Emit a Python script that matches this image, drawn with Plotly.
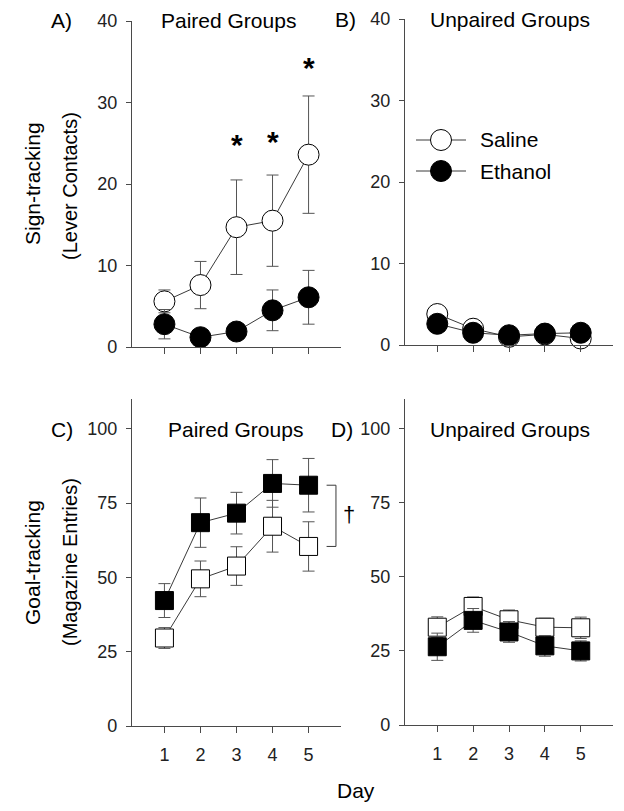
import plotly.graph_objects as go

W, H = 624, 811
FONT = "Liberation Sans, Arial, sans-serif"

days = [1, 2, 3, 4, 5]
group_labels = ["Saline", "Ethanol"]

# Panel A: Sign-tracking, paired groups
a_saline = [5.6, 7.6, 14.7, 15.5, 23.6]
a_saline_err = [1.4, 2.9, 5.8, 5.6, 7.2]
a_ethanol = [2.8, 1.2, 1.9, 4.5, 6.1]
a_ethanol_err = [1.8, 0.5, 0.5, 2.5, 3.3]
a_sig_days = [3, 4, 5]
a_sig_y = [24.9, 25.2, 34.3]

# Panel B: Sign-tracking, unpaired groups
b_saline = [3.8, 2.0, 1.0, 1.3, 0.8]
b_saline_err = [0.5, 0.4, 0.3, 0.3, 0.3]
b_ethanol = [2.6, 1.5, 1.2, 1.4, 1.5]
b_ethanol_err = [0.5, 0.4, 0.3, 0.3, 0.3]

# Panel C: Goal-tracking, paired groups
c_saline = [29.6, 49.5, 53.8, 67.2, 60.4]
c_saline_err = [3.5, 6.0, 6.5, 8.7, 8.3]
c_ethanol = [42.2, 68.4, 71.6, 81.6, 81.0]
c_ethanol_err = [5.7, 8.3, 7.0, 8.0, 9.0]

# Panel D: Goal-tracking, unpaired groups
d_saline = [33.0, 40.0, 35.5, 33.0, 32.8]
d_saline_err = [3.5, 3.2, 3.3, 3.0, 3.6]
d_ethanol = [26.4, 35.3, 31.4, 26.7, 25.0]
d_ethanol_err = [4.6, 4.0, 3.5, 3.5, 3.4]

LINE_C = "#3a3a3a"
ERR_C = "#555555"
AX_C = "#4a4a4a"

fig = go.Figure()


def add_series(y, err, xa, ya, symbol, filled, size):
    fig.add_trace(go.Scatter(
        x=days, y=y, xaxis=xa, yaxis=ya, mode="lines+markers",
        line=dict(color=LINE_C, width=1),
        marker=dict(symbol=symbol, size=size,
                    color="black" if filled else "white",
                    line=dict(color="black", width=1)),
        error_y=dict(type="data", array=err, color=ERR_C, thickness=1, width=6),
        showlegend=False, cliponaxis=False,
    ))


add_series(a_saline, a_saline_err, "x", "y", "circle", False, 21)
add_series(a_ethanol, a_ethanol_err, "x", "y", "circle", True, 21)
add_series(b_saline, b_saline_err, "x2", "y2", "circle", False, 21)
add_series(b_ethanol, b_ethanol_err, "x2", "y2", "circle", True, 21)
add_series(c_saline, c_saline_err, "x3", "y3", "square", False, 18)
add_series(c_ethanol, c_ethanol_err, "x3", "y3", "square", True, 18)
add_series(d_saline, d_saline_err, "x4", "y4", "square", False, 18)
add_series(d_ethanol, d_ethanol_err, "x4", "y4", "square", True, 18)


def px_x(p):
    return p / W


def px_y(p):
    return 1 - p / H


xdomL = [px_x(132), px_x(341)]
xdomR = [px_x(405), px_x(613)]
ydomTop = [px_y(347), px_y(21)]
ydomBot = [px_y(726), px_y(399)]

tickfont = dict(family=FONT, size=18, color="#222")


def xaxis(domain, anchor, labels):
    return dict(domain=domain, anchor=anchor, range=[0.1, 5.9], automargin=False,
                tickvals=days, ticktext=[str(d) for d in days] if labels else ["" for d in days],
                ticks="outside", ticklen=6, tickcolor=AX_C, tickwidth=1,
                showline=True, linecolor=AX_C, linewidth=1.3,
                showgrid=False, zeroline=False, tickfont=tickfont,
                ticklabelstandoff=6)


def yaxis(domain, anchor, rng, tv):
    return dict(domain=domain, anchor=anchor, range=rng, tickvals=tv, automargin=False,
                ticks="outside", ticklen=5, tickcolor=AX_C, tickwidth=1,
                showline=True, linecolor=AX_C, linewidth=1.3,
                showgrid=False, zeroline=False, tickfont=tickfont,
                ticklabelstandoff=5)


fig.update_layout(
    width=W, height=H, margin=dict(l=0, r=0, t=0, b=0, autoexpand=False),
    paper_bgcolor="white", plot_bgcolor="white",
    font=dict(family=FONT, color="black"),
    xaxis=xaxis(xdomL, "y", False),
    yaxis=yaxis(ydomTop, "x", [0, 40], [0, 10, 20, 30, 40]),
    xaxis2=xaxis(xdomR, "y2", False),
    yaxis2=yaxis([px_y(345), px_y(19)], "x2", [0, 40], [0, 10, 20, 30, 40]),
    xaxis3=xaxis(xdomL, "y3", True),
    yaxis3=yaxis(ydomBot, "x3", [0, 110], [0, 25, 50, 75, 100]),
    xaxis4=xaxis(xdomR, "y4", True),
    yaxis4=yaxis([px_y(725), px_y(399)], "x4", [0, 110], [0, 25, 50, 75, 100]),
    showlegend=False,
)

ann = []


def text(x, y, s, size=21, xanchor="center", angle=0, bold=False):
    ann.append(dict(x=px_x(x), y=px_y(y), xref="paper", yref="paper",
                    text=("<b>%s</b>" % s) if bold else s, showarrow=False,
                    xanchor=xanchor, yanchor="middle", textangle=angle,
                    font=dict(family=FONT, size=size, color="black")))


# panel labels and titles
text(62, 21, "A)")
text(345, 19, "B)")
text(62, 429, "C)")
text(342, 429, "D)")
text(229, 21, "Paired Groups")
text(510, 20, "Unpaired Groups")
text(235, 429, "Paired Groups")
text(510, 429, "Unpaired Groups")

# y-axis titles
text(32, 184, "Sign-tracking", angle=-90)
text(70, 186, "(Lever Contacts)", angle=-90, size=20)
text(32, 563, "Goal-tracking", angle=-90)
text(70, 562, "(Magazine Entries)", angle=-90, size=20)

# x-axis title
text(356, 790, "Day")

# significance asterisks (panel A)
for d, yv in zip(a_sig_days, a_sig_y):
    ann.append(dict(x=d, y=yv, xref="x", yref="y", text="<b>*</b>", showarrow=False,
                    xanchor="center", yanchor="middle",
                    font=dict(family=FONT, size=30, color="black")))

# dagger next to bracket (panel C)
text(349, 514, "†", size=22)

# legend (panel B)
leg_y = [140, 171]
shapes = []
for i, lab in enumerate(group_labels):
    yy = leg_y[i]
    shapes.append(dict(type="line", xref="paper", yref="paper",
                       x0=px_x(416), x1=px_x(466), y0=px_y(yy), y1=px_y(yy),
                       line=dict(color=LINE_C, width=1)))
    shapes.append(dict(type="circle", xref="paper", yref="paper",
                       x0=px_x(441 - 10.5), x1=px_x(441 + 10.5),
                       y0=px_y(yy + 10.5), y1=px_y(yy - 10.5),
                       fillcolor="black" if i == 1 else "white",
                       line=dict(color="black", width=1)))
    text(478, yy, lab, size=21, xanchor="left")

# bracket in panel C linking day-5 means
bx0, bx1 = 5.5, 5.76
for yv in (c_saline[4], c_ethanol[4]):
    shapes.append(dict(type="line", xref="x3", yref="y3", x0=bx0, x1=bx1, y0=yv, y1=yv,
                       line=dict(color=LINE_C, width=1)))
shapes.append(dict(type="line", xref="x3", yref="y3", x0=bx1, x1=bx1,
                   y0=c_saline[4], y1=c_ethanol[4], line=dict(color=LINE_C, width=1)))

fig.update_layout(annotations=ann, shapes=shapes)
fig.write_html(
    "out.html",
    config={"displayModeBar": False},
    post_script="document.body.style.margin='0px';document.documentElement.style.overflow='hidden';",
)
